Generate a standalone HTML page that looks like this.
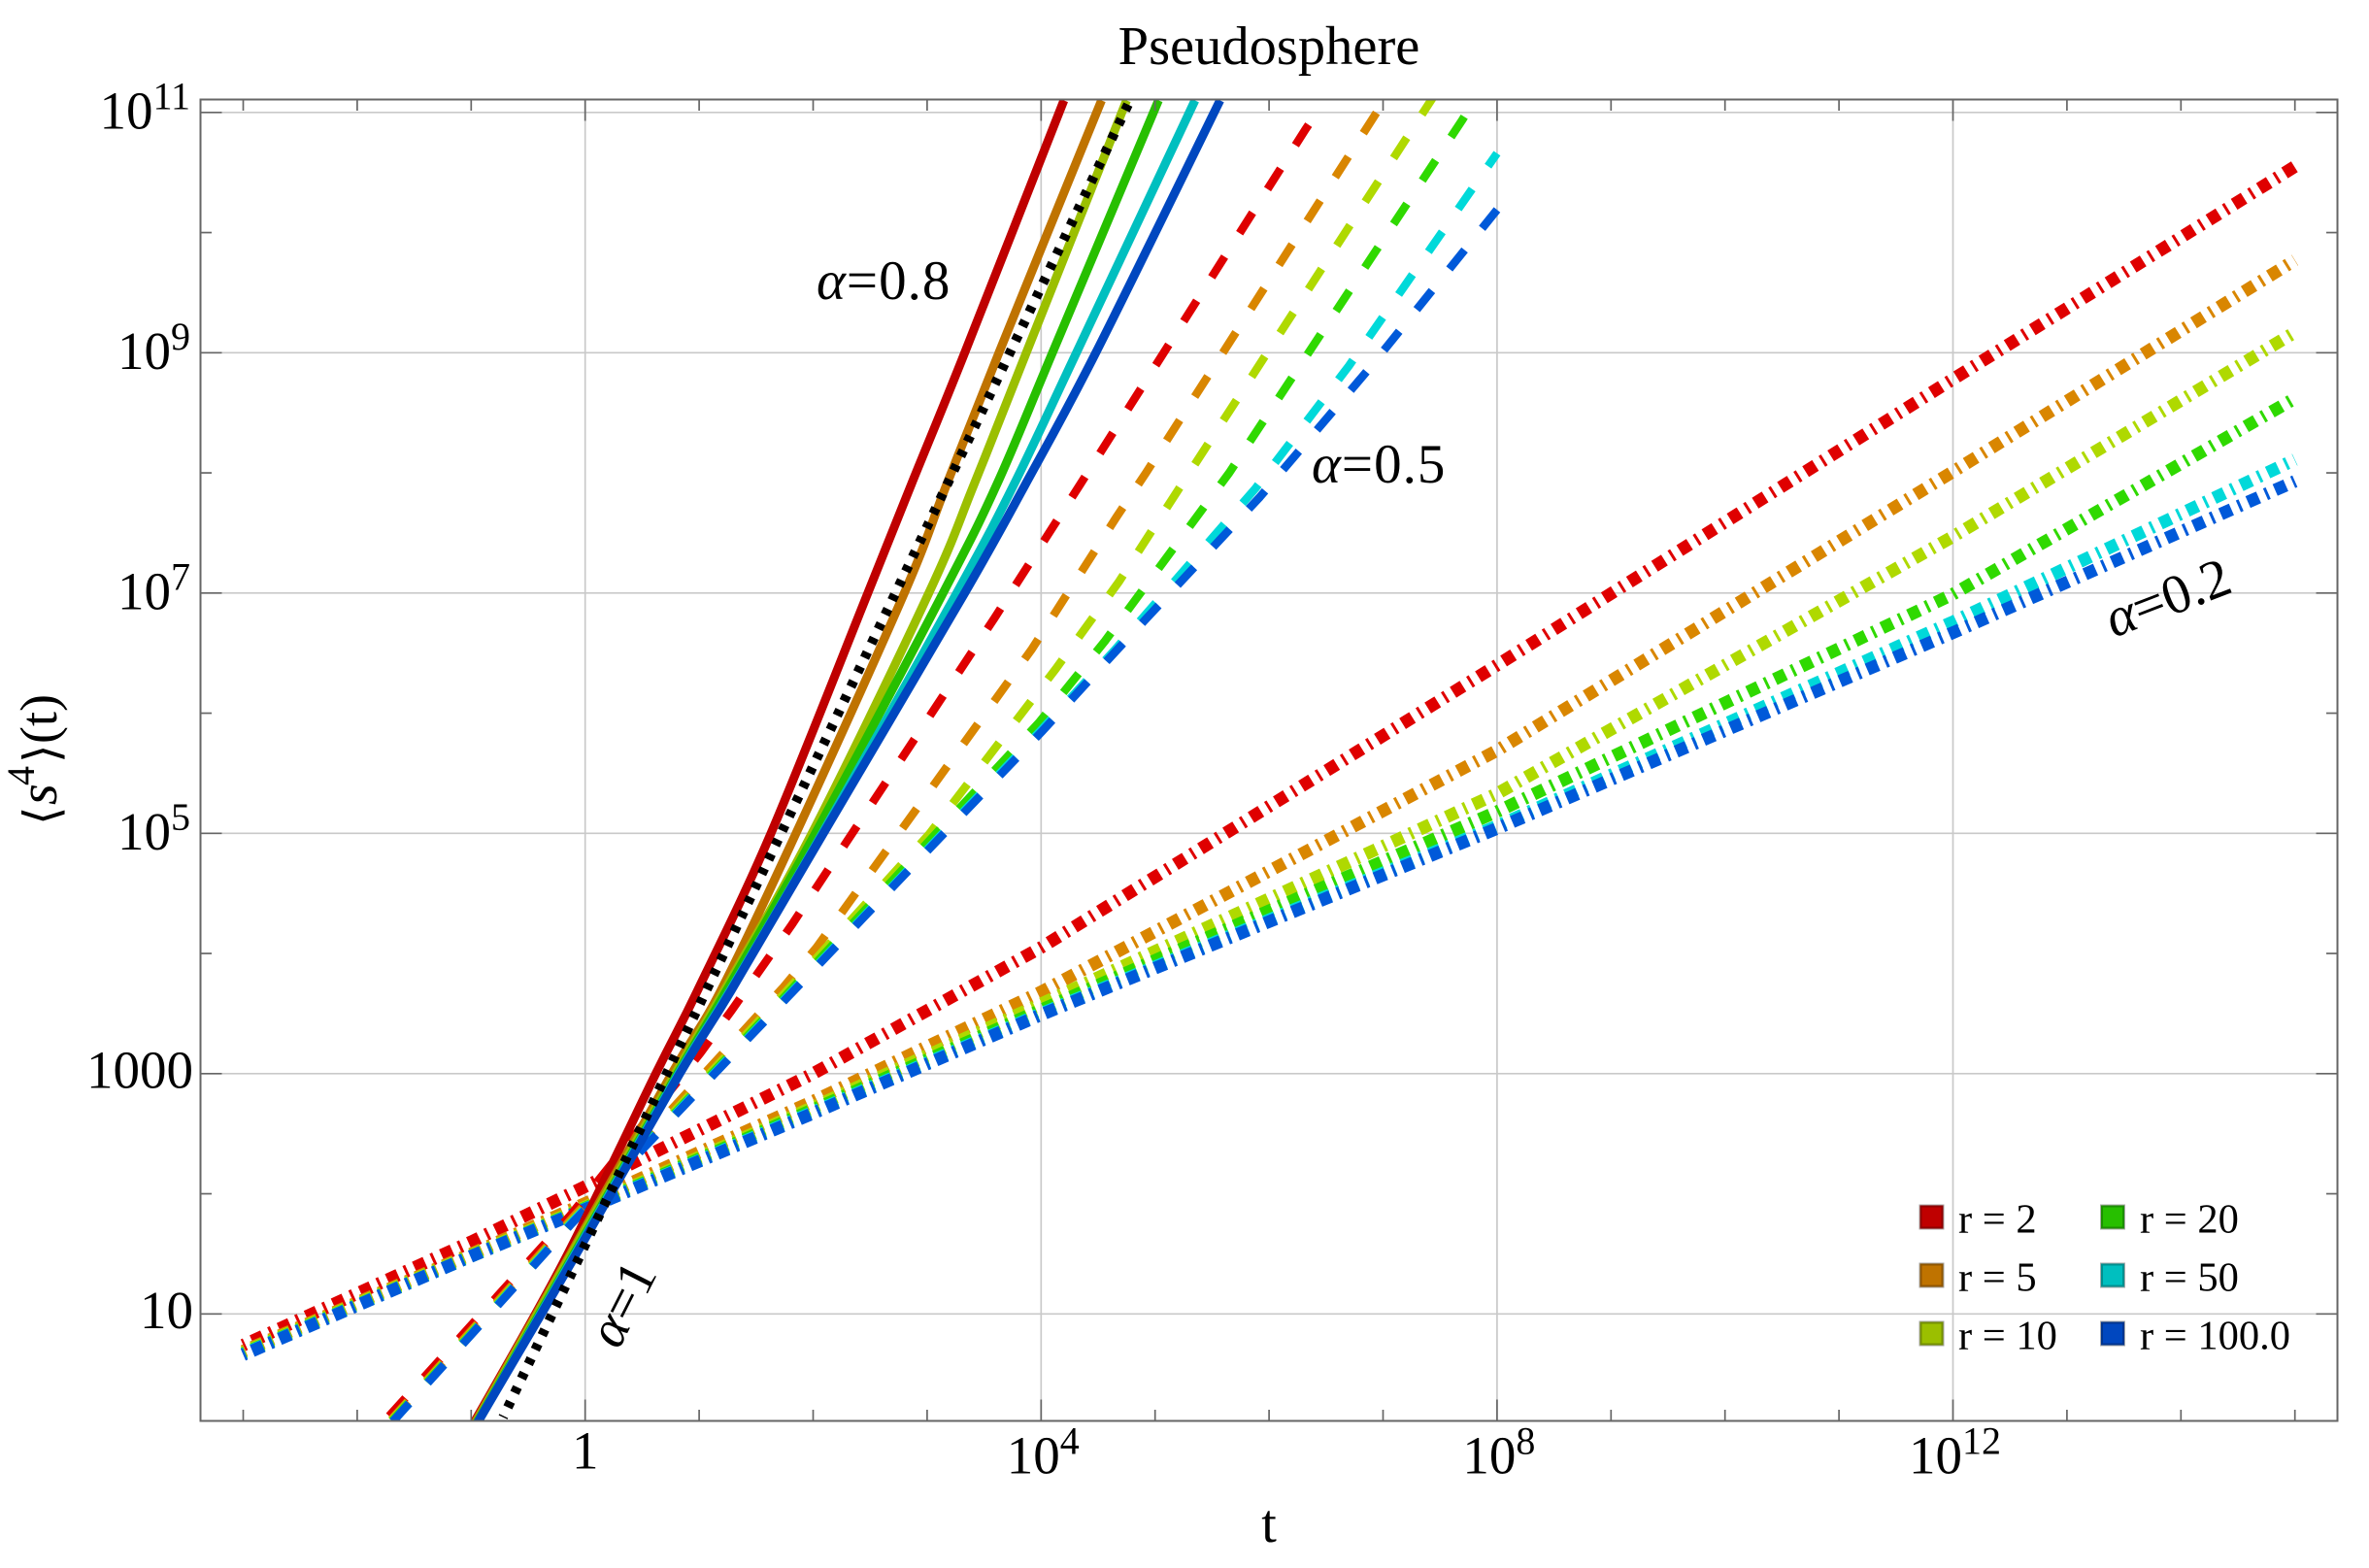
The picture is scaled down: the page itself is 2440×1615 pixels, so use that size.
<!DOCTYPE html>
<html>
<head>
<meta charset="utf-8">
<title>Pseudosphere</title>
<style>
html,body{margin:0;padding:0;background:#fff;}
svg{display:block;}
text{font-family:"Liberation Serif","DejaVu Serif",serif;fill:#000;}
</style>
</head>
<body>
<svg id="chart" xmlns="http://www.w3.org/2000/svg" width="2440" height="1615" viewBox="0 0 2440 1615">
<defs><clipPath id="frame-clip"><rect x="206.5" y="102.5" width="2201" height="1361"/></clipPath></defs>
<rect x="0" y="0" width="2440" height="1615" fill="#fff"/>
<g id="grid"></g>
<g id="marks" clip-path="url(#frame-clip)"></g>
<g id="axes"></g>
<g id="ticklabels"></g>
<text x="1307" y="66" font-size="56.5" text-anchor="middle">Pseudosphere</text>
<text x="1307" y="1588" font-size="56" text-anchor="middle">t</text>
<text transform="translate(58,847) rotate(-90)" font-size="54"><tspan x="-3" y="2" font-family="'DejaVu Sans',sans-serif" font-size="50">⟨</tspan><tspan x="18" y="0" font-style="italic" font-size="56">s</tspan><tspan x="38" y="-23" font-size="40">4</tspan><tspan x="61" y="2" font-family="'DejaVu Sans',sans-serif" font-size="50">⟩</tspan><tspan x="81" y="0">(t)</tspan></text>
<text x="841" y="308" font-size="57" letter-spacing="1"><tspan font-style="italic">α</tspan>=0.8</text>
<text x="1351" y="497" font-size="57" letter-spacing="1"><tspan font-style="italic">α</tspan>=0.5</text>
<text transform="translate(2177,657) rotate(-21)" font-size="57"><tspan font-style="italic">α</tspan>=0.2</text>
<text transform="translate(637,1391) rotate(-63)" font-size="56"><tspan font-style="italic">α</tspan>=1</text>
<g id="legend"></g>
</svg>
<script>
// Axis tick data (exponents of ten)
const xTickAll = [-3,-2,-1,0,1,2,3,4,5,6,7,8,9,10,11,12,13,14,15];
const xTickMajor = [0,4,8,12];
const xTickBase = ["1","10","10","10"];
const xTickSup = ["","4","8","12"];
const yTickAll = [1,2,3,4,5,6,7,8,9,10,11];
const yTickMajor = [1,3,5,7,9,11];
const yTickBase = ["10","1000","10","10","10","10"];
const yTickSup = ["","","5","7","9","11"];

// Legend
const seriesNames = ["r = 2","r = 5","r = 10","r = 20","r = 50","r = 100.0"];

// alpha = 0.2 (dash-dot): log10 t grid and log10 <s^4> per r
const a02LogT = [-3,-1,0,2,4,8,12,15];
const a02_r2 = [0.74,1.60,2.06,3.00,4.05,6.40,8.78,10.55];
const a02_r5 = [0.69,1.50,1.92,2.77,3.68,5.69,8.01,9.77];
const a02_r10 = [0.68,1.49,1.89,2.72,3.58,5.33,7.47,9.17];
const a02_r20 = [0.67,1.48,1.88,2.70,3.53,5.18,6.99,8.62];
const a02_r50 = [0.665,1.48,1.875,2.68,3.50,5.06,6.76,8.11];
const a02_r100 = [0.66,1.48,1.87,2.67,3.49,5.04,6.67,7.93];

// alpha = 0.5 (dashed): log10 t and log10 <s^4> per r
const a05T_r2 = [-1.72,-0.13,1.01,1.28,1.81,3.59,4.34,6.32,6.42];
const a05S_r2 = [0.15,1.82,3.17,3.52,4.235,6.79,7.90,10.86,11.0];
const a05T_r5 = [-1.72,-0.13,1.74,2.03,3.92,4.66,4.92,6.91,7.2];
const a05S_r5 = [0.10,1.78,3.72,4.05,6.535,7.63,8.00,10.95,11.38];
const a05T_r10 = [-1.72,-0.13,1.74,3.015,4.13,4.68,5.17,7.40,7.6];
const a05S_r10 = [0.09,1.76,3.66,4.99,6.37,7.09,7.81,11.07,11.36];
const a05T_r20 = [-1.72,-0.13,1.74,3.98,4.56,5.65,7.69,7.9];
const a05S_r20 = [0.08,1.75,3.63,5.92,6.60,8.00,10.93,11.25];
const a05T_r50 = [-1.72,-0.13,1.79,4.01,4.65,5.88,6.70,8.0];
const a05S_r50 = [0.07,1.75,3.66,5.87,6.53,7.87,8.89,10.66];
const a05T_r100 = [-1.72,-0.13,1.79,2.745,4.01,4.65,5.92,6.88,8.0];
const a05S_r100 = [0.07,1.74,3.65,4.60,5.85,6.51,7.80,8.87,10.19];

// alpha = 0.8 (solid): log10 t where each curve reaches the shared log10 <s^4> levels
const a08LogS = [0.07,1.43,3.00,3.69,5.00,7.00,7.90,9.00,11.10];
const a08T_r2 = [-0.99,-0.19,0.62,0.985,1.63,2.48,2.86,3.33,4.20];
const a08T_r5 = [-0.98,-0.17,0.76,1.19,1.85,2.80,3.17,3.63,4.53];
const a08T_r10 = [-0.97,-0.16,0.79,1.22,1.99,3.015,3.41,3.87,4.75];
const a08T_r20 = [-0.965,-0.14,0.81,1.24,2.02,3.14,3.61,4.10,5.03];
const a08T_r50 = [-0.96,-0.13,0.82,1.27,2.08,3.26,3.76,4.31,5.35];
const a08T_r100 = [-0.96,-0.12,0.83,1.28,2.09,3.33,3.86,4.48,5.57];

// alpha = 1 (black dotted)
const a1LogT = [-0.72,4.78];
const a1LogS = [0.14,11.10];

const NS = "http://www.w3.org/2000/svg";
function xScale(logT){ return 602.7 + 117.4*logT; }
function yScale(logS){ return 1353.3 - 123.75*(logS-1); }

function el(tag, parent){
  const n = document.createElementNS(NS, tag);
  parent.appendChild(n);
  return n;
}
function linePath(ts, ss){
  let d = "";
  for(let i=0;i<ts.length;i++){
    d += (i?"L":"M") + xScale(ts[i]).toFixed(2) + " " + yScale(ss[i]).toFixed(2);
  }
  return d;
}
function smoothPath(ts, ss){
  const px = ts.map(xScale);
  const py = ss.map(yScale);
  let d = "M" + px[0].toFixed(2) + " " + py[0].toFixed(2);
  for(let i=0;i<px.length-1;i++){
    const a = Math.max(i-1,0), b = Math.min(i+2,px.length-1);
    const c1x = px[i] + (px[i+1]-px[a])/6;
    const c1y = py[i] + (py[i+1]-py[a])/6;
    const c2x = px[i+1] - (px[b]-px[i])/6;
    const c2y = py[i+1] - (py[b]-py[i])/6;
    d += "C" + c1x.toFixed(2) + " " + c1y.toFixed(2) + " " + c2x.toFixed(2) + " " + c2y.toFixed(2) + " " + px[i+1].toFixed(2) + " " + py[i+1].toFixed(2);
  }
  return d;
}
function seg(parent, x1, y1, x2, y2, color, w){
  const l = el("line", parent);
  l.setAttribute("x1", x1);
  l.setAttribute("y1", y1);
  l.setAttribute("x2", x2);
  l.setAttribute("y2", y2);
  l.setAttribute("stroke", color);
  l.setAttribute("stroke-width", w);
  return l;
}

const L = 206.5, T = 102.5, R = 2407.5, B = 1463.5;
const gridG = document.getElementById("grid");
const marksG = document.getElementById("marks");
const axesG = document.getElementById("axes");
const labelsG = document.getElementById("ticklabels");
const legendG = document.getElementById("legend");
const GRID = "#c9c9c9", AXIS = "#666666";

// grid
xTickMajor.forEach(function(k){
  const g = seg(gridG, xScale(k), T, xScale(k), B, GRID, 1.7);
  
  
});
yTickMajor.forEach(function(k){
  const g = seg(gridG, L, yScale(k), R, yScale(k), GRID, 1.7);
  
  
});

// series
const solidColors = ["#BF0000","#BF7300","#9BBF00","#27BF00","#00BFBF","#0047BF"];
const brightColors = ["#DF0000","#D98600","#AFD900","#2FD900","#00D9D9","#0059D9"];
const a02Series = [a02_r2,a02_r5,a02_r10,a02_r20,a02_r50,a02_r100];
const a05TSeries = [a05T_r2,a05T_r5,a05T_r10,a05T_r20,a05T_r50,a05T_r100];
const a05SSeries = [a05S_r2,a05S_r5,a05S_r10,a05S_r20,a05S_r50,a05S_r100];
const a08TSeries = [a08T_r2,a08T_r5,a08T_r10,a08T_r20,a08T_r50,a08T_r100];
const dashedPhaseStyle = [0,-3.75,-3.75,-4.75,-5.75,-5.75];

function drawLine(d, color, width, dash, phase){
  const p = el("path", marksG);
  p.setAttribute("d", d);
  p.setAttribute("fill", "none");
  p.setAttribute("stroke", color);
  p.setAttribute("stroke-width", width);
  p.setAttribute("stroke-linejoin", "round");
  if(dash){
    p.setAttribute("stroke-dasharray", dash);
    p.setAttribute("stroke-dashoffset", phase);
  }
  return p;
}
a02Series.forEach(function(vals, i){
  const p = drawLine(linePath(a02LogT, vals), brightColors[i], 13, "3 7.8 12 7.8", 0.65);
  
  
});
a05SSeries.forEach(function(vals, i){
  const p = drawLine(linePath(a05TSeries[i], vals), brightColors[i], 8.5, "25 28.7", dashedPhaseStyle[i]);
  
  
});
a08TSeries.forEach(function(ts, i){
  const p = drawLine(smoothPath(ts, a08LogS), solidColors[i], 9, null, 0);
  
  
});
const dotted = drawLine(linePath(a1LogT, a1LogS), "#000", 10, "6.5 9.94", 5.1);



// frame
const frame = el("rect", axesG);
frame.setAttribute("x", L);
frame.setAttribute("y", T);
frame.setAttribute("width", R-L);
frame.setAttribute("height", B-T);
frame.setAttribute("fill", "none");
frame.setAttribute("stroke", AXIS);
frame.setAttribute("stroke-width", 2);



// ticks
xTickAll.forEach(function(k){
  const len = xTickMajor.indexOf(k) >= 0 ? 22 : 11.5;
  const a = seg(axesG, xScale(k), B, xScale(k), B-len, AXIS, 1.7);
  
  
  const b = seg(axesG, xScale(k), T, xScale(k), T+len, AXIS, 1.7);
  
  
});
yTickAll.forEach(function(k){
  const len = yTickMajor.indexOf(k) >= 0 ? 22 : 11.5;
  const a = seg(axesG, L, yScale(k), L+len, yScale(k), AXIS, 1.7);
  
  
  const b = seg(axesG, R, yScale(k), R-len, yScale(k), AXIS, 1.7);
  
  
});

// tick labels
function tickLabel(x, y, anchor, base, sup){
  const t = el("text", labelsG);
  t.setAttribute("x", x);
  t.setAttribute("y", y);
  t.setAttribute("text-anchor", anchor);
  t.setAttribute("font-size", 55);
  const b = el("tspan", t);
  b.textContent = base;
  if(sup){
    const s = el("tspan", t);
    s.setAttribute("font-size", 40);
    s.setAttribute("dy", -20);
    s.textContent = sup;
  }
  return t;
}
yTickMajor.forEach(function(k, i){
  const sup = yTickSup[i];
  const t = tickLabel(sup ? 196 : 199, yScale(k) + (sup ? 16.5 : 14.5), "end", yTickBase[i], sup);
  
  
});
xTickMajor.forEach(function(k, i){
  const sup = xTickSup[i];
  const t = tickLabel(xScale(k) + (sup ? 2 : 0), sup ? 1517.5 : 1512.5, "middle", xTickBase[i], sup);
  
  
});

// legend
const legendOrderCol = [0,0,0,1,1,1];
const legendOrderRow = [0,1,2,0,1,2];
const legendDark = ["#8F0000","#8F5600","#748F00","#1D8F00","#008F8F","#00358F"];
seriesNames.forEach(function(name, i){
  const sx = legendOrderCol[i] ? 2163 : 1976.5;
  const tx = legendOrderCol[i] ? 2204 : 2017;
  const sy = 1240.5 + 60*legendOrderRow[i];
  const outer = el("rect", legendG);
  outer.setAttribute("x", sx);
  outer.setAttribute("y", sy);
  outer.setAttribute("width", 26);
  outer.setAttribute("height", 26);
  outer.setAttribute("fill", "#aaaaaa");
  
  
  const sw = el("rect", legendG);
  sw.setAttribute("x", sx+2);
  sw.setAttribute("y", sy+2);
  sw.setAttribute("width", 22);
  sw.setAttribute("height", 22);
  sw.setAttribute("fill", solidColors[i]);
  sw.setAttribute("stroke", legendDark[i]);
  sw.setAttribute("stroke-width", 2);
  
  
  const t = el("text", legendG);
  t.setAttribute("x", tx);
  t.setAttribute("y", 1269.3 + 60*legendOrderRow[i]);
  t.setAttribute("font-size", 42.5);
  t.textContent = name;
  
  
});
</script>
</body>
</html>
